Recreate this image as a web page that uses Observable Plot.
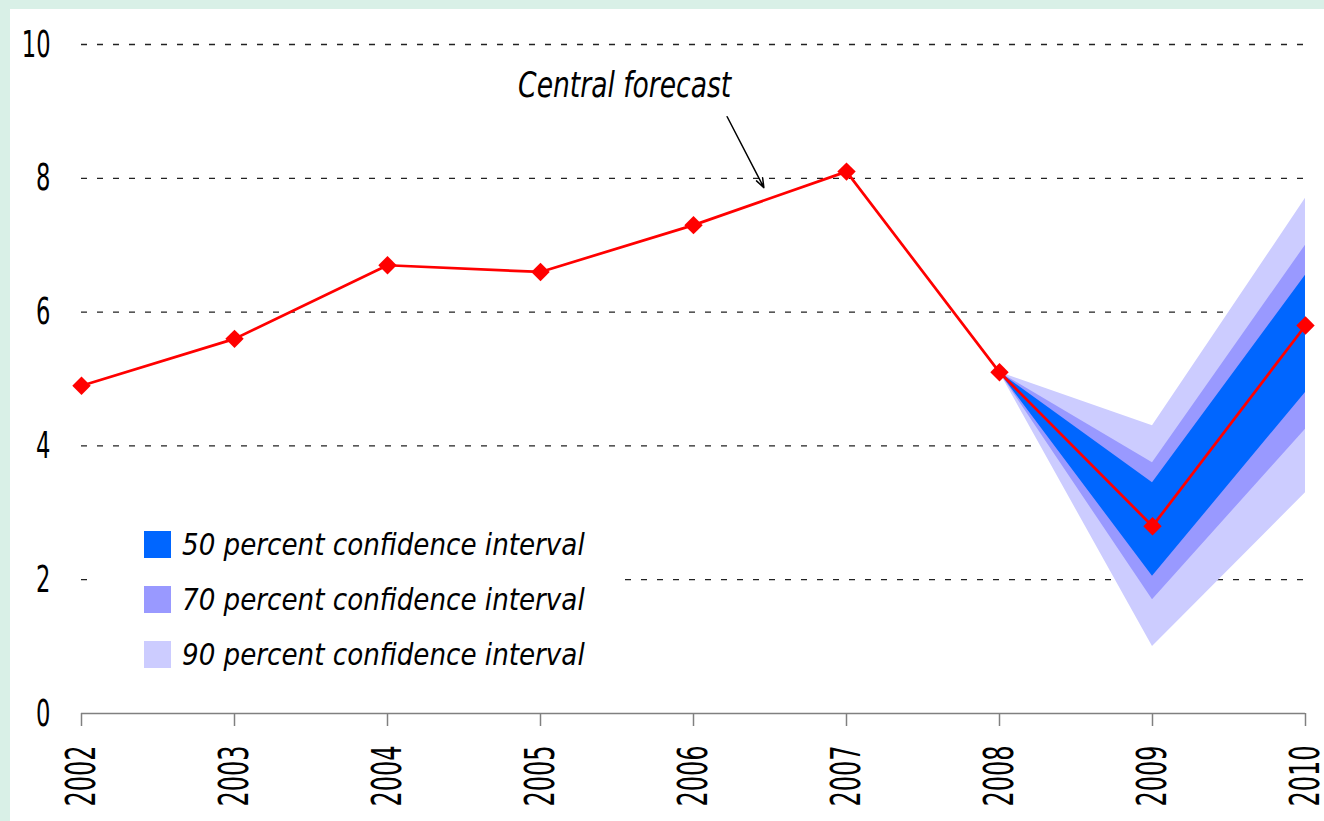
<!DOCTYPE html>
<html><head><meta charset="utf-8">
<script src="https://cdn.jsdelivr.net/npm/d3@7"></script>
<script src="https://cdn.jsdelivr.net/npm/@observablehq/plot@0.6"></script>
<style>
body{margin:0;background:#d9f0e7;width:1324px;height:821px;overflow:hidden;font-family:'Liberation Sans Narrow','Arial Narrow','DejaVu Sans Condensed','DejaVu Sans',sans-serif;}
#panel{position:absolute;left:10px;top:9px;width:1314px;height:812px;background:#fff;}
#legend{position:absolute;left:82px;top:506px;width:530px;height:176px;background:#fff;}
.row{position:absolute;left:52px;display:flex;align-items:center;height:30px;}
.sw{width:27px;height:27px;margin-right:11px;flex:none;}
.lab{display:inline-block;font-style:italic;font-size:30px;color:#000;white-space:nowrap;transform-origin:left center;}
</style>
</head><body>
<div id="panel"><div id="chart"></div><div id="legend"></div></div>
<script>
const years = [2002, 2003, 2004, 2005, 2006, 2007, 2008, 2009, 2010];
const values = [4.9, 5.6, 6.7, 6.6, 7.3, 8.1, 5.1, 2.8, 5.8];
const yTicks = [0, 2, 4, 6, 8, 10];
const gridValues = [2, 4, 6, 8, 10];

const forecastYears = [2008, 2009, 2010];
const ci90Low  = [5.1, 1.0, 3.3];
const ci90High = [5.1, 4.3, 7.7];
const ci70Low  = [5.1, 1.7, 4.25];
const ci70High = [5.1, 3.75, 7.0];
const ci50Low  = [5.1, 2.05, 4.8];
const ci50High = [5.1, 3.45, 6.55];

const bandLabels = ["50 percent confidence interval", "70 percent confidence interval", "90 percent confidence interval"];
const bandColors = ["#0066ff", "#9999ff", "#ccccff"];

const annotationText = ["Central forecast"];
const annotationTextX = [2005.55];
const annotationTextY = [9.39];
const arrowFrom = [2006.22, 8.92];
const arrowTo = [2006.46, 7.86];

const FONT = "'Liberation Sans Narrow','Arial Narrow','DejaVu Sans Condensed','DejaVu Sans',sans-serif";

const series = years.map((y, i) => ({year: y, value: values[i]}));
const band = (lo, hi) => forecastYears.map((y, i) => ({year: y, lo: lo[i], hi: hi[i]}));
const band90 = band(ci90Low, ci90High);
const band70 = band(ci70Low, ci70High);
const band50 = band(ci50Low, ci50High);

const chart = Plot.plot({
  width: 1314,
  height: 812,
  marginLeft: 71,
  marginRight: 19,
  marginTop: 35,
  marginBottom: 108,
  style: {fontFamily: FONT, fontSize: "38px", background: "#fff", overflow: "visible"},
  x: {domain: [2002, 2010], type: "linear"},
  y: {domain: [0, 10]},
  marks: [
    Plot.ruleY(gridValues, {x1: years[0], x2: years[years.length - 1], stroke: "#222", strokeWidth: 1.3, strokeDasharray: "6,10"}),
    Plot.areaY(band90, {x: "year", y1: "lo", y2: "hi", fill: bandColors[2]}),
    Plot.areaY(band70, {x: "year", y1: "lo", y2: "hi", fill: bandColors[1]}),
    Plot.areaY(band50, {x: "year", y1: "lo", y2: "hi", fill: bandColors[0]}),
    Plot.ruleY([0], {x1: years[0], x2: years[years.length - 1], stroke: "#808080", strokeWidth: 1.5}),
    Plot.axisX({ticks: years, tickFormat: d => String(d), tickRotate: -90, tickSize: 13, tickPadding: 19, stroke: "#808080", strokeWidth: 1.5, fill: "#000", fontSize: 41, label: null}),
    Plot.axisY({ticks: yTicks, tickSize: 0, tickPadding: 31, fill: "#000", fontSize: 38, label: null}),
    Plot.line(series, {x: "year", y: "value", stroke: "#ff0000", strokeWidth: 2.7}),
    Plot.dot(series, {x: "year", y: "value", symbol: "diamond2", r: 8.3, fill: "#ff0000", stroke: "none"}),
    Plot.text(annotationText, {x: annotationTextX, y: annotationTextY, text: d => d, fontStyle: "italic", fontSize: 36, fill: "#000"}),
    Plot.arrow([0], {x1: () => arrowFrom[0], y1: () => arrowFrom[1], x2: () => arrowTo[0], y2: () => arrowTo[1], stroke: "#000", strokeWidth: 1.5, headLength: 10, headAngle: 40})
  ]
});
document.getElementById("chart").appendChild(chart);

// condense the text to mimic the narrow typeface of the original
function condense(selector, ratio) {
  chart.querySelectorAll(selector).forEach(el => {
    const L = el.getComputedTextLength();
    el.setAttribute("textLength", (L * ratio).toFixed(1));
    el.setAttribute("lengthAdjust", "spacingAndGlyphs");
  });
}
condense('g[aria-label="x-axis tick label"] text', 0.65);
condense('g[aria-label="y-axis tick label"] text', 0.66);
condense('g[aria-label="text"] text', 0.82);

const legend = document.getElementById("legend");
bandLabels.forEach((lab, i) => {
  const row = document.createElement("div");
  row.className = "row";
  row.style.top = (14 + i * 55) + "px";
  const sw = document.createElement("div");
  sw.className = "sw";
  sw.style.background = bandColors[i];
  const t = document.createElement("span");
  t.className = "lab";
  t.textContent = lab;
  t.style.transform = "scaleX(0.97)";
  row.appendChild(sw);
  row.appendChild(t);
  legend.appendChild(row);
});
</script>
</body></html>
